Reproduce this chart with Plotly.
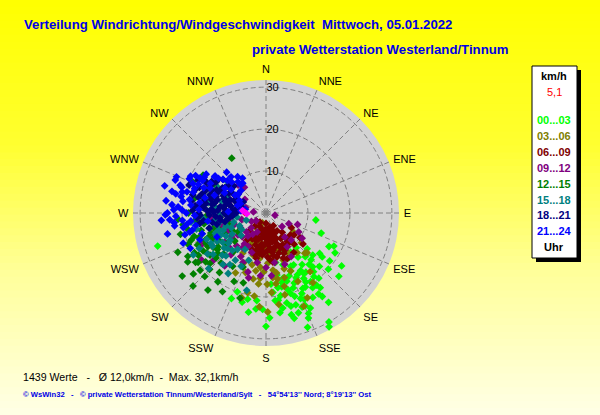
import plotly.graph_objects as go

# ---------------- data (direction in degrees from N clockwise, speed km/h) ----------------
HOUR_LABELS = ["00...03", "03...06", "06...09", "09...12", "12...15", "15...18", "18...21", "21...24"]
HOUR_COLORS = ["#00FF00", "#808000", "#800000", "#800080", "#008000", "#008080", "#000080", "#0000FF"]

wind_00_03 = [(150,18),(155,17),(160,19),(165,16),(170,20),(145,15),(148,21),(152,14),(158,22),(162,13),
              (168,18),(172,21),(140,16),(143,19),(147,23),(153,12),(157,24),(163,17),(167,22),(175,19),
              (178,25),(182,23),(186,21),(190,24),(195,22),(200,20),(138,14),(135,18),(132,20),(128,17),
              (125,22),(120,19),(116,18),(127,16),(132,15),(145,26),(155,25),(160,29),(150,30),(158,27),
              (165,26),(152,20),(146,24),(142,12),(170,15),(176,17),(162,23),(156,21),(149,16),(144,13),
              (139,11),(131,13),(98,12),(110,14),(118,17),(131,23),(127,19),(202,22),(192,21),(186,23),
              (180,27),(172,24),(166,25),(159,24),(145,21),(146,17),(155,14),(157,15),(253,27),(151,31),
              (163,20),(169,12),(154,10),(148,11),(141,18),
              (150,19),(154,20),(158,18),(161,21),(164,19),(167,17),(171,18),(174,21),(148,17),(151,23),
              (156,22.5),(160,16),(153,16.5),(165,23),(170,23),(147,19.5),(144,22),(141,20),(139,17),
              (136,15.5),(162,25),(157,26)]
wind_03_06 = [(197,10.5),(185,15.6),(173,13.7),(143,17.5),(154,22.5),(167,20),(184,22.4),(179,23.6),(193,19.5),
              (151,10.9),(136,13.3),(200,2.5),(170,14.5),(142,12),(134,13.6),(195,12.8),(218,4.2),(180,9),
              (188,11),(175,10),(165,9),(160,12),(190,14),(205,8),(210,11),(172,17),(178,12),(183,8),
              (157,15),(148,7),(140,9),(162,6),(192,7),(186,17),(168,11),(176,19),(199,15),(204,13),
              (155,18),(146,20),(164,16),(181,5),(188,20),(196,21),(130,11),(215,7),(207,16),(172,22),
              (158,24),(190,4),(125,8),(176,7),
              (170,16),(182,14),(186,13),(174,15.5),(162,14),(166,18),(179,17),(191,16)]
wind_06_09 = [(176,7.6),(223,5.6),(132,7.8),(175,11.2),(195,10.3),(153,9.9),(214,2.6),(126,10),(159,11.5),
              (169,9),(185,8),(190,6),(200,7),(165,6),(160,8),(170,5),(180,4),(150,7),(145,9),(140,6),
              (135,8),(155,5),(205,9),(210,6),(195,4),(185,10),(178,9),(162,10),(168,7),(173,8.5),
              (188,7.5),(182,6),(198,8),(158,6.5),(148,5),(138,10),(128,8.5),(120,7),(130,11.5),(145,11.5),
              (192,11),(200,5),(215,8),(220,4),(150,3.5),(165,3.5),(180,2.5),(230,3),(205,3.5),(172,11.8),
              (155,12),(142,7.5),(186,5),(160,4.5),(176,5.5),(194,9),(170,10.3),
              (163,7),(167,8.5),(174,6.5),(179,7),(183,9.5),(187,9),(191,8.5),(196,6.5),(202,6),(171,9.5),
              (157,9),(152,8.5),(148,9.5),(143,8.5),(156,10.5),(166,10.8),(178,10.5),(189,9.8),(199,9.5),
              (208,7),(183,4),(172,4),(161,5.5),(191,5)]
wind_09_12 = [(104,2.2),(142,7.3),(137,8.8),(125,10.5),(315,9.4),(234,19),(205,13),(197,14.7),(148,9.5),
              (230,10),(225,8),(240,7),(215,9),(210,12),(220,13),(235,12),(245,10),(250,8),(255,11),
              (200,10),(190,12),(180,13),(170,12),(160,13),(120,9),(115,6),(130,5),(110,8),(238,15),
              (228,17),(248,14),(260,9),(265,13),(255,6),(240,4),(225,5),(212,6),(303,6),(320,8),
              (275,3),(285,5),(195,16),(185,15),(175,15),(150,12),(218,16),(244,17),(205,5),(232,3),
              (262,16),(290,9),
              (214,10),(222,10.5),(228,12),(232,8.5),(208,9),(218,7),(226,6.5),(236,10)]
wind_12_15 = [(233,16.7),(246,15.9),(229,20.8),(225,24.6),(230,22.6),(241,21.3),(209,21.4),(197,21.2),(198,17.5),
              (270,18.5),(282,17.3),(301,17.5),(328,15.4),(299,13.9),(235,14),(240,13),(250,14),(255,16),
              (260,15),(245,18),(238,19),(228,18),(222,16),(232,12),(243,11),(252,12),(258,19),(264,17),
              (268,14),(236,17),(226,14),(218,18),(215,20),(240,16),(248,20),(256,21),(262,20),(230,15),
              (244,14),(234,20),(224,21),(212,15),(205,18),(250,17),(238,22),(246,23),(254,13),(275,15),
              (266,21),(220,12),(228,10),(242,9),(253,9),(236,8),(288,14),(293,19),(217,23),(233,25),
              (203,14),(265,11),
              (231,18.5),(235,20.5),(239,17.5),(243,16),(247,15),(250,19),(237,15),(233,14.5),(228,16),
              (225,19),(241,19.5),(252,18)]
wind_15_18 = [(226,14.5),(213,13.4),(233,10.7),(262,12.3),(273,13.3),(309,11.9),(194,19),(240,11),(245,13),
              (250,12),(255,14),(258,10),(252,16),(247,9),(238,15),(230,13),(222,12),(218,11),(210,10),
              (205,14),(235,17),(242,18),(265,15),(268,11),(270,9),(276,12),(280,14),(285,11),(292,10),
              (298,13),(228,8),(236,7),(244,7),(254,8),(262,7),(248,11),(241,15),(232,16),(220,16),
              (215,15),(257,17),(263,18),(200,12),(285,16),(275,17),(226,19),(240,20),(212,17),(250,5),
              (300,8),
              (236,12.5),(240,13.5),(244,12),(248,13),(252,10),(256,12),(231,11.5),(227,12.5),(223,14),
              (246,15.5),(238,9.5),(260,11)]
wind_18_21 = [(290,9.1),(288,14),(277,6.2),(268,15.7),(261,11),(288,17.8),(280,10),(285,12),(292,11),
              (295,13),(298,10),(300,12),(283,9),(278,11),(274,13),(270,10),(266,12),(272,14),(282,15),
              (286,16),(293,15),(297,16),(302,14),(305,11),(280,7),(287,7),(294,8),(300,9),(275,8),
              (265,8),(260,13),(258,10),(270,16),(276,17),(284,18),(291,17),(296,18),(303,14),(308,13),
              (310,10),(289,10.5),(281,12.5),(279,14.5),(273,11.5),(267,9.5),(263,15),(286,13.5),(293,12.5),
              (299,14.5),(277,16),(271,7),(284,6),(296,6),(305,8),(308,11),(300,15),(290,19.5),(255,14),
              (281,8.5),(286,10),(291,8),(297,12),(302,11.5),(289,15.5),(284,13.5),(279,13),(275,15),
              (271,12.5),(268,13.5),(264,11),(262,9),(269,8),(276,10),(293,14),(298,16.5),(288,12.5),
              (283,16.5),(279,18),(272,17.5),(266,16.5),(261,16),(257,12)]
wind_21_24 = [(269,24),(266,23),(274,21),(284,20.6),(281,20.6),(294,20),(292,18.8),(298,17.8),(316,13.5),
              (316,12),(300,8.5),(303,8),(294,14.6),(301,11.4),(256,18.7),(245,19.9),(248,17),(244,13),
              (275,6),(280,5),(285,7),(290,6.5),(295,7),(272,9),(262,22),(258,24),(265,20),(270,19),
              (276,18),(282,22),(287,21),(290,23),(296,20),(300,17),(305,15),(308,13),(310,12),(312,11),
              (318,10),(322,9),(306,15),(303,17),(298,15),(292,16),(286,18),(278,20),(272,22),(264,18),
              (260,17),(252,16),(250,21),(255,20),(262,14),(268,17),(273,16),(279,16),(284,15),(289,13),
              (296,11),(304,10),(312,8),(322,11),(326,10),(318,9),(285,25),(277,24),(292,23),(298,19),
              (306,14),(266,25),
              (272,20),(268,21.5),(264,22),(260,20),(257,18),(280,18.5),(285,19.5),(289,18),(293,17.5),
              (283,23),(275,22.5),(270,23.5),(288,21.5),(297,17),(262,19)]

HOUR_SERIES = [wind_00_03, wind_03_06, wind_06_09, wind_09_12, wind_12_15, wind_15_18, wind_18_21, wind_21_24]

current_dir = [272, 268, 276]
current_spd = [5.1, 4.6, 5.6]
current_label = "5,1"

DIR_VALUES = [0, 22.5, 45, 67.5, 90, 112.5, 135, 157.5, 180, 202.5, 225, 247.5, 270, 292.5, 315, 337.5]
DIR_LABELS = ["N", "NNE", "NE", "ENE", "E", "ESE", "SE", "SSE", "S", "SSW", "SW", "WSW", "W", "WNW", "NW", "NNW"]
RADIAL_TICKS = [10, 20, 30]

NB = "\u00a0"
TITLE_1 = "Verteilung Windrichtung/Windgeschwindigkeit" + NB * 2 + "Mittwoch, 05.01.2022"
TITLE_2 = "private Wetterstation Westerland/Tinnum"
FOOT_1 = "1439 Werte" + NB * 3 + "-" + NB * 3 + "Ø 12,0km/h" + NB * 2 + "-" + NB * 2 + "Max. 32,1km/h"
FOOT_2 = ("© WsWin32" + NB * 3 + "-" + NB * 3 + "© private Wetterstation Tinnum/Westerland/Sylt"
          + NB * 3 + "-" + NB * 3 + "54°54'13'' Nord; 8°19'13'' Ost")

# ---------------- figure ----------------
W, H = 600, 415
fig = go.Figure()

for pts, col in zip(HOUR_SERIES, HOUR_COLORS):
    fig.add_trace(go.Scatterpolar(
        theta=[p[0] for p in pts], r=[p[1] for p in pts], mode="markers",
        marker=dict(symbol="diamond", size=6, color=col, line=dict(width=0)),
        showlegend=False, hoverinfo="skip"))

fig.add_trace(go.Scatterpolar(
    theta=current_dir, r=current_spd, mode="markers",
    marker=dict(symbol="diamond", size=6, color=["#FF0000", "#FF00FF", "#FF00FF"], line=dict(width=0)),
    showlegend=False, hoverinfo="skip"))
fig.add_trace(go.Scatterpolar(
    theta=[0], r=[0], mode="markers",
    marker=dict(symbol="square", size=5, color="#808080", line=dict(width=0)),
    showlegend=False, hoverinfo="skip"))

# vertical yellow gradient background as horizontal bands
stops = [(0.0, 0), (0.35, 48), (0.65, 152), (1.0, 230)]   # (fraction from top, blue channel)
def blue_at(f):
    for (f0, b0), (f1, b1) in zip(stops[:-1], stops[1:]):
        if f <= f1:
            return b0 + (b1 - b0) * (f - f0) / (f1 - f0)
    return stops[-1][1]
NBANDS = 60
for i in range(NBANDS):
    f = (i + 0.5) / NBANDS
    fig.add_shape(type="rect", xref="paper", yref="paper", layer="below",
                  x0=0, x1=1, y0=1 - (i + 1) / NBANDS - 0.002, y1=1 - i / NBANDS,
                  fillcolor="rgb(255,255,%d)" % round(blue_at(f)), line=dict(width=0))

cx, cy, rad = 266, 213, 133
grid = dict(gridcolor="#808080", griddash="5px,3px", gridwidth=1)
tickf = dict(family="Liberation Sans, Arial, sans-serif", size=11, color="black")

fig.update_layout(
    width=W, height=H, margin=dict(l=0, r=0, t=0, b=0),
    paper_bgcolor="#FFFF80",
    polar=dict(
        domain=dict(x=[(cx - rad) / W, (cx + rad) / W], y=[(H - cy - rad) / H, (H - cy + rad) / H]),
        bgcolor="#D3D3D3",
        radialaxis=dict(range=[0, 31.7], tickmode="array", tickvals=RADIAL_TICKS, angle=90, tickangle=90,
                        side="clockwise", showline=False, ticks="", tickfont=tickf, **grid),
        angularaxis=dict(rotation=90, direction="clockwise", tickmode="array", tickvals=DIR_VALUES,
                         ticktext=DIR_LABELS, showline=False, ticks="outside", ticklen=2,
                         tickcolor="rgba(0,0,0,0)", tickfont=tickf, **grid),
    ),
)

# legend box with shadow
bx0, bx1, by0, by1 = 532, 577, 66, 258
fig.add_shape(type="rect", xref="paper", yref="paper", x0=(bx0 + 4) / W, x1=(bx1 + 4) / W,
              y0=1 - (by1 + 4) / H, y1=1 - (by0 + 4) / H, fillcolor="black", line=dict(width=0))
fig.add_shape(type="rect", xref="paper", yref="paper", x0=bx0 / W, x1=bx1 / W,
              y0=1 - by1 / H, y1=1 - by0 / H, fillcolor="#FFFFFF", line=dict(color="black", width=1))

def ann(text, px, py, color="black", size=11, bold=False, xanchor="center",
        family="Liberation Sans, Arial, sans-serif"):
    fig.add_annotation(text=("<b>%s</b>" % text) if bold else text, xref="paper", yref="paper",
                       x=px / W, y=1 - py / H, xanchor=xanchor, yanchor="middle", showarrow=False,
                       borderpad=0, font=dict(family=family, size=size, color=color))

lx = 554
ann("km/h", lx, 76, bold=True)
ann(current_label, lx, 92, color="#FF0000")
for i, (lab, col) in enumerate(zip(HOUR_LABELS, HOUR_COLORS)):
    ann(lab, lx, 120 + i * 15.9, color=col, bold=True)
ann("Uhr", lx, 247, bold=True)

ann(TITLE_1, 23, 25, color="#0000E6", size=13.2, bold=True, xanchor="left")
ann(TITLE_2, 251, 50, color="#0000E6", size=13.2, bold=True, xanchor="left")
ann(FOOT_1, 22, 377, size=10.6, xanchor="left")
ann(FOOT_2, 22, 394, color="#0000E6", size=7.65, bold=True, xanchor="left")

fig.write_html("out.html", config={"displayModeBar": False},
               post_script="document.body.style.margin='0';document.body.style.overflow='hidden';")
